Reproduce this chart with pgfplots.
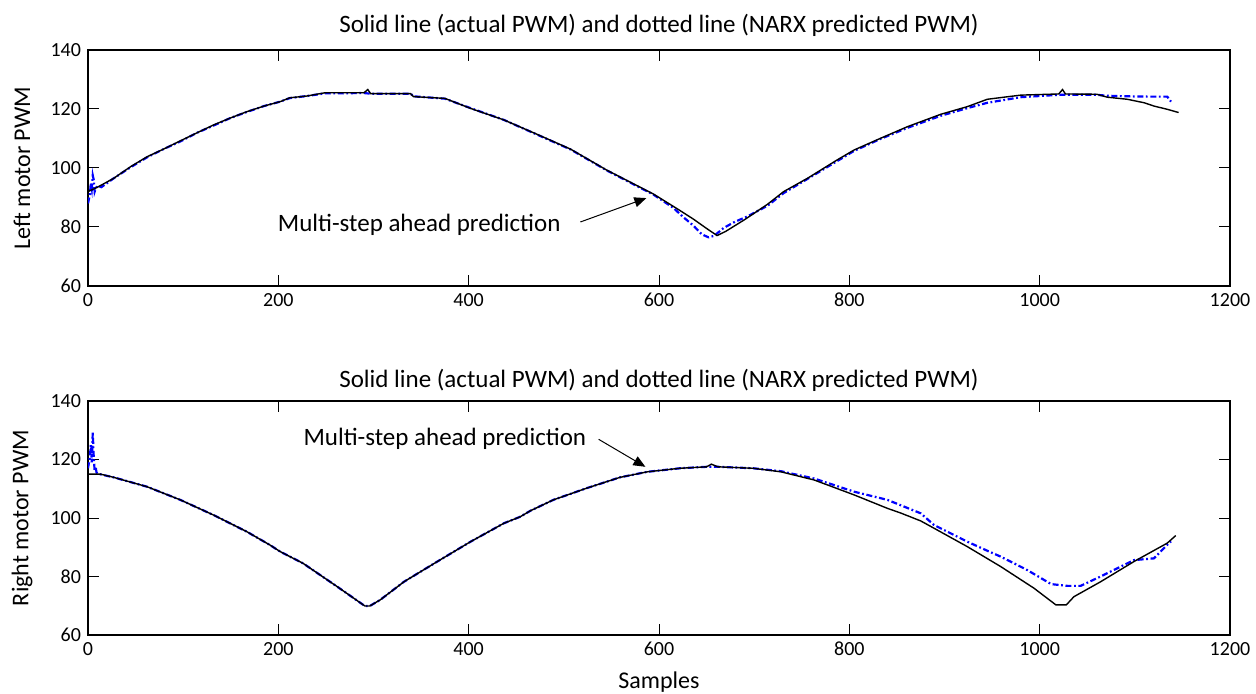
\documentclass[border=0pt]{standalone}
\usepackage{fontspec}
\setmainfont{Carlito}
\usepackage{pgfplots}
\pgfplotsset{compat=1.18}
\usetikzlibrary{arrows.meta}

\definecolor{pblue}{RGB}{0,0,255}

\pgfplotstableread{
x y
0 92
10 93.5
27 96.5
45 100.5
62 103.8
80 106.5
97 109.2
115 112
132 114.6
150 117
167 119.1
185 121
202 122.5
212 123.8
230 124.4
249 125.5
290 125.5
294 126.6
297 125.2
339 125.2
342 124.2
375 123.6
402 120.2
437 116.3
472 111.4
507 106.4
545 99.3
594 91.2
620 86
636 82.7
650 79.5
661 77.1
670 78.5
690 82.5
714 87.7
731 92.0
756 96.5
787 102.7
805 106.1
833 110.1
861 114.0
896 118.2
924 120.8
945 123.3
980 124.7
1020 125.1
1024 126.6
1027 125.1
1060 125
1071 124.0
1092 123.3
1110 122.1
1120 121.0
1134 119.9
1146 118.8
}\leftact

\pgfplotstableread{
x y
0 88
2 91
3 95
4 93
5 97.5
6 96
7 92
8 93
10 94
14 93.5
27 96.5
45 100.3
62 103.6
80 106.5
97 109.0
115 112
132 114.4
150 117
167 119.0
185 121
202 122.5
212 123.7
230 124.4
249 125.3
290 125.4
297 125.2
339 125.2
342 124.3
375 123.5
402 120.3
437 116.3
472 111.3
507 106.3
545 99.2
594 91.0
615 86.5
625 83.5
636 80.5
645 77.5
652 76.5
658 77
668 79.7
680 81.8
693 83.6
714 87.2
731 91.5
756 96.3
787 102.3
805 105.8
833 109.9
861 113.6
896 117.7
924 120.3
945 122.1
980 124.0
1020 124.8
1060 124.8
1071 124.5
1092 124.3
1113 124.2
1134 124.2
1138 122.5
}\leftpred

\pgfplotstableread{
x y
0 115
13 115
27 113.9
62 110.7
97 106.2
132 101.0
167 95.3
191 90.8
202 88.5
226 84.5
262 76.5
291 69.9
296 69.9
307 72.0
332 78.2
367 85.1
402 91.9
437 98.2
454 100.4
465 102.5
489 106.2
524 110.2
559 113.9
588 115.8
622 117.0
650 117.5
655 118.4
662 117.5
699 117.0
728 115.8
763 113.0
805 107.9
840 103.3
854 101.7
875 99.0
889 96.5
924 90.2
959 83.4
994 76.0
1017 70.3
1028 70.3
1036 73.1
1064 78.2
1099 85.1
1134 91.4
1143 94.0
}\rightact

\pgfplotstableread{
x y
0 117
2 121
3 125
4 119
5 129.5
6 121
7 116
8 117.5
9 115.5
12 115
27 113.9
62 110.7
97 106.2
132 101.0
167 95.3
191 90.8
202 88.5
226 84.5
262 76.5
291 69.9
296 69.9
307 72.0
332 78.2
367 85.1
402 91.9
437 98.2
454 100.4
465 102.5
489 106.2
524 110.2
559 113.9
588 115.8
622 117.0
650 117.5
662 117.5
699 117.0
728 116.0
763 113.5
805 109.0
840 106.2
875 101.6
889 97.6
924 91.9
945 88.8
959 86.8
987 82.2
1012 77.4
1029 76.8
1043 76.8
1064 80.0
1099 85.6
1120 86.2
1134 90.8
1138 92.0
}\rightpred

\pgfplotsset{
  mystyle/.style={
    scale only axis, width=571pt,
    xmin=0,xmax=1200,ymin=60,ymax=140,
    xtick={0,200,...,1200}, ytick={60,80,...,140},
    tick align=inside, major tick length=5.5pt,
    tick style={black, line width=0.5pt},
    axis line style={line width=0.7pt},
    /pgf/number format/assume math mode=true,
    /pgf/number format/1000 sep={},
    tick label style={font=\fontsize{10}{12}\selectfont},
    label style={font=\fontsize{12}{14}\selectfont},
    title style={font=\fontsize{12.5}{15}\selectfont},
    ylabel style={at={(axis description cs:-0.0578,0.5)}, anchor=center},
  },
  blueline/.style={pblue, line width=1.1pt, dash pattern=on 3pt off 1.3pt on 0.9pt off 1.3pt},
  blackline/.style={black, line width=0.7pt},
}

\begin{document}
\begin{tikzpicture}
\begin{axis}[mystyle, height=118pt, at={(44pt,204pt)}, anchor=south west,
  title={Solid line (actual PWM) and dotted line (NARX predicted PWM)},
  title style={at={(axis description cs:0.5,1.106)}, anchor=center, yshift=-6pt},
  ylabel={Left motor PWM}]
\addplot[blueline] table {\leftpred};
\addplot[blackline] table {\leftact};
\node[font=\fontsize{12.5}{15}\selectfont] at (axis cs:348,80.7) {Multi-step ahead prediction};
\draw[line width=0.5pt, -{Triangle[length=6pt,width=5pt]}] (axis cs:517.4,81.7) -- (axis cs:586.7,89.8);
\end{axis}
\begin{axis}[mystyle, height=117pt, at={(44pt,29.5pt)}, anchor=south west,
  title={Solid line (actual PWM) and dotted line (NARX predicted PWM)},
  title style={at={(axis description cs:0.5,1.0897)}, anchor=center, yshift=-6pt},
  ylabel={Right motor PWM},
  xlabel={Samples},
  xlabel style={at={(axis description cs:0.5,-0.2009)}, anchor=center}]
\addplot[blueline] table {\rightpred};
\addplot[blackline] table {\rightact};
\node[font=\fontsize{12.5}{15}\selectfont] at (axis cs:375,127.0) {Multi-step ahead prediction};
\draw[line width=0.5pt, -{Triangle[length=6pt,width=5pt]}] (axis cs:536.6,126.9) -- (axis cs:585.7,117.5);
\end{axis}
\pgfresetboundingbox
\useasboundingbox (0,0) rectangle (628pt,347pt);
\end{tikzpicture}
\end{document}
